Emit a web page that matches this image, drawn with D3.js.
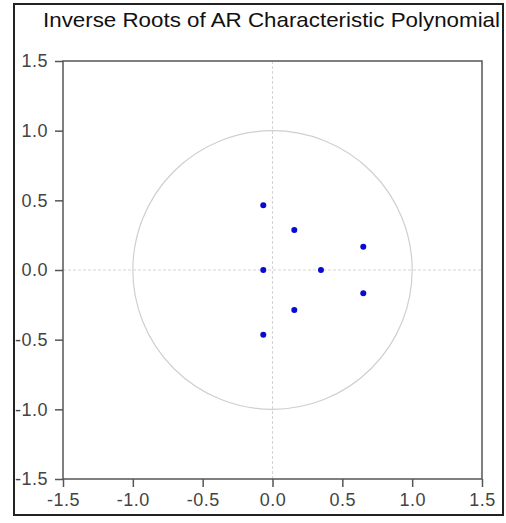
<!DOCTYPE html>
<html>
<head>
<meta charset="utf-8">
<script src="https://cdn.jsdelivr.net/npm/d3@7"></script>
<style>
  body { margin: 0; background: white; }
  text { font-family: "Liberation Sans", Arial, sans-serif; }
</style>
</head>
<body>
<div id="chart"></div>
<script>
const rootsRe = [-0.066, 0.156, 0.65, -0.066, 0.347, 0.65, 0.156, -0.066];
const rootsIm = [0.465, 0.287, 0.167, 0, 0, -0.167, -0.287, -0.465];
const tickValues = [-1.5, -1.0, -0.5, 0.0, 0.5, 1.0, 1.5];
const titleText = "Inverse Roots of AR Characteristic Polynomial";

const W = 506, H = 523;
const plot = {left: 63, right: 482, top: 61, bottom: 479};

const svg = d3.select("#chart").append("svg")
    .attr("width", W)
    .attr("height", H);

// outer frame
svg.append("rect")
    .attr("x", 14).attr("y", 4)
    .attr("width", 489).attr("height", 511)
    .attr("fill", "white")
    .attr("stroke", "#222")
    .attr("stroke-width", 2);

// title
svg.append("text")
    .attr("x", 271.5).attr("y", 27)
    .attr("text-anchor", "middle")
    .attr("font-size", 21)
    .attr("textLength", 457)
    .attr("lengthAdjust", "spacingAndGlyphs")
    .attr("fill", "#111")
    .text(titleText);

const x = d3.scaleLinear().domain([-1.5, 1.5]).range([plot.left, plot.right]);
const y = d3.scaleLinear().domain([-1.5, 1.5]).range([plot.bottom, plot.top]);

// hyphen minus like the original, one decimal
const fmt = d => d3.format(".1f")(d).replace("\u2212", "-");

// zero lines
svg.append("line")
    .attr("x1", x(0)).attr("x2", x(0))
    .attr("y1", plot.top).attr("y2", plot.bottom)
    .attr("stroke", "#d4d4d4")
    .attr("stroke-dasharray", "3,2");
svg.append("line")
    .attr("x1", plot.left).attr("x2", plot.right)
    .attr("y1", y(0)).attr("y2", y(0))
    .attr("stroke", "#d4d4d4")
    .attr("stroke-dasharray", "3,2");

// unit circle
svg.append("ellipse")
    .attr("cx", x(0)).attr("cy", y(0))
    .attr("rx", x(1) - x(0)).attr("ry", y(0) - y(1))
    .attr("fill", "none")
    .attr("stroke", "#cfcfcf")
    .attr("stroke-width", 1.2);

// plot box
svg.append("rect")
    .attr("x", plot.left).attr("y", plot.top)
    .attr("width", plot.right - plot.left).attr("height", plot.bottom - plot.top)
    .attr("fill", "none")
    .attr("stroke", "#555")
    .attr("stroke-width", 1.5);

// axes
const xAxis = svg.append("g")
    .attr("transform", `translate(0, ${plot.bottom})`)
    .call(d3.axisBottom(x).tickValues(tickValues).tickFormat(fmt).tickSize(8).tickPadding(6));
const yAxis = svg.append("g")
    .attr("transform", `translate(${plot.left}, 0)`)
    .call(d3.axisLeft(y).tickValues(tickValues).tickFormat(fmt).tickSize(8).tickPadding(7));

[xAxis, yAxis].forEach(g => {
    g.select(".domain").remove();
    g.selectAll("line").attr("stroke", "#555").attr("stroke-width", 1.5);
    g.selectAll("text")
        .attr("font-family", "Liberation Sans, Arial, sans-serif")
        .attr("font-size", 18)
        .attr("letter-spacing", 0.5)
        .attr("fill", "#444");
});

// roots
svg.selectAll(".root")
    .data(rootsRe.map((r, i) => ({re: r, im: rootsIm[i]})))
    .enter()
    .append("circle")
    .attr("class", "root")
    .attr("cx", d => x(d.re))
    .attr("cy", d => y(d.im))
    .attr("r", 3)
    .attr("fill", "#0a0ad0");
</script>
</body>
</html>
